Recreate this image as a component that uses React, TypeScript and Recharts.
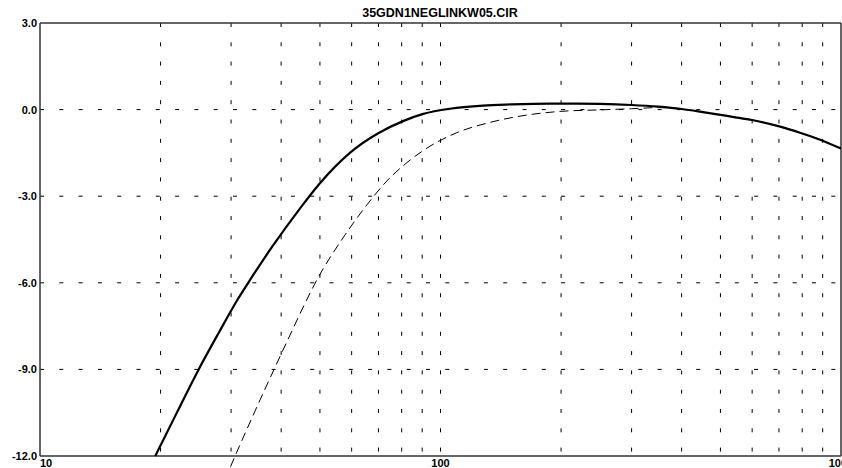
import React from 'react';
import { LineChart, Line, XAxis, YAxis, ReferenceLine } from 'recharts';

const TITLE = '35GDN1NEGLINKW05.CIR';
const xTicks = [10, 100, 1000];
const yTicks = [-12, -9, -6, -3, 0, 3];
const gridFreqs = [20, 30, 40, 50, 60, 70, 80, 90, 100, 200, 300, 400, 500, 600, 700, 800, 900];
const gridLevels = [0, -3, -6, -9];

const solidFreq = [19.4, 22, 24.9, 28, 31.2, 33.1, 38, 44.6, 50, 59.5, 69.9, 80.9, 90.6, 105.6, 127.7, 150, 188, 220, 250, 300, 350, 400, 445, 536, 600, 705, 790, 890, 1000];
const solidLevel = [-12, -10.48, -9, -7.71, -6.56, -6, -4.75, -3.42, -2.55, -1.49, -0.82, -0.39, -0.15, 0.03, 0.14, 0.18, 0.21, 0.21, 0.2, 0.16, 0.1, 0.02, -0.07, -0.25, -0.36, -0.59, -0.8, -1.05, -1.35];

const dashFreq = [29.9, 30.7, 34, 38.4, 42, 46.3, 48.6, 57.7, 65.5, 73.5, 82.4, 94.1, 109.8, 133.2, 170, 200, 250, 300, 350, 400, 445, 536, 600, 705, 790, 890, 1000];
const dashLevel = [-12.37, -12, -10.61, -9, -7.84, -6.6, -6.02, -4.35, -3.3, -2.47, -1.84, -1.27, -0.8, -0.44, -0.16, -0.06, -0.01, 0.03, 0.07, 0.02, -0.07, -0.25, -0.36, -0.59, -0.8, -1.05, -1.35];

const solidData = solidFreq.map((f, i) => ({ f, v: solidLevel[i] }));
const dashData = dashFreq.map((f, i) => ({ f, v: dashLevel[i] }));

const FONT = '"Liberation Sans", Arial, sans-serif';

const XTick = (props: any) => {
  const { x, y, payload } = props;
  const first = payload.value === xTicks[0];
  return (
    <text x={x} y={y} textAnchor={first ? 'start' : 'middle'} fontFamily={FONT} fontWeight="bold" fontSize={11} fill="#000">
      {payload.value}
    </text>
  );
};

export default function App() {
  return (
    <div style={{ position: 'absolute', left: 0, top: 0, width: 842, height: 468, background: '#fff', overflow: 'hidden' }}>
      <LineChart width={842} height={468} margin={{ top: 23, right: 1, bottom: 0, left: 0 }}>
        <XAxis
          dataKey="f"
          type="number"
          scale="log"
          domain={[10, 1000]}
          allowDataOverflow
          ticks={xTicks}
          interval={0}
          height={1}
          tickSize={0}
          tickMargin={0}
          axisLine={false}
          tickLine={false}
          tick={<XTick />}
        />
        <YAxis
          type="number"
          domain={[-12.381, 3]}
          allowDataOverflow
          ticks={yTicks}
          interval={0}
          width={40}
          tickSize={0}
          tickMargin={3}
          axisLine={false}
          tickLine={false}
          tickFormatter={(v: number) => v.toFixed(1)}
          tick={{ fill: '#000', fontSize: 11, fontWeight: 'bold', fontFamily: FONT }}
        />
        {gridLevels.map((lv) => (
          <ReferenceLine key={'h' + lv} y={lv} stroke="#000" strokeWidth={1} strokeDasharray="4 15.3" ifOverflow="visible" />
        ))}
        {gridFreqs.map((f) => (
          <ReferenceLine
            key={'v' + f}
            segment={[{ x: f, y: 3 }, { x: f, y: -12 }]}
            stroke="#000"
            strokeWidth={1}
            strokeDasharray="4 15.3"
            ifOverflow="visible"
          />
        ))}
        <ReferenceLine segment={[{ x: 10, y: 3 }, { x: 10, y: -12 }]} stroke="#333" strokeWidth={1.5} ifOverflow="visible" />
        <ReferenceLine segment={[{ x: 1000, y: 3 }, { x: 1000, y: -12 }]} stroke="#333" strokeWidth={1.5} ifOverflow="visible" />
        <ReferenceLine segment={[{ x: 10, y: 3 }, { x: 1000, y: 3 }]} stroke="#333" strokeWidth={1.5} ifOverflow="visible" />
        <ReferenceLine segment={[{ x: 10, y: -12 }, { x: 1000, y: -12 }]} stroke="#333" strokeWidth={1.5} ifOverflow="visible" />
        <Line
          data={dashData}
          dataKey="v"
          type="monotone"
          stroke="#000"
          strokeWidth={1}
          strokeDasharray="9 5"
          dot={false}
          activeDot={false}
          isAnimationActive={false}
        />
        <Line
          data={solidData}
          dataKey="v"
          type="monotone"
          stroke="#000"
          strokeWidth={2.2}
          dot={false}
          activeDot={false}
          isAnimationActive={false}
        />
      </LineChart>
      <svg width={842} height={468} style={{ position: 'absolute', left: 0, top: 0, pointerEvents: 'none' }}>
        <text x={440} y={17} textAnchor="middle" fontFamily={FONT} fontWeight="bold" fontSize={12.5} fill="#000">
          {TITLE}
        </text>
      </svg>
    </div>
  );
}
